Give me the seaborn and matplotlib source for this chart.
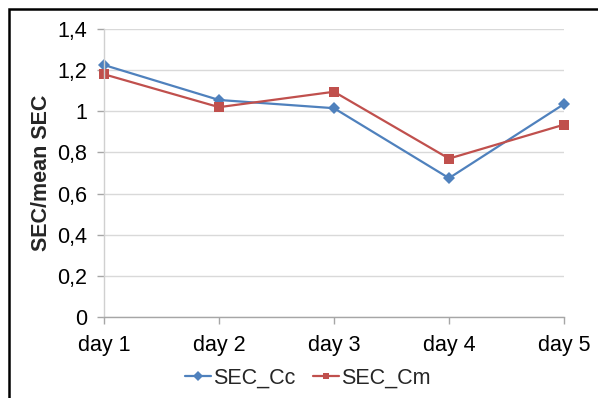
import matplotlib
matplotlib.use("Agg")
import matplotlib.pyplot as plt
from matplotlib.patches import Rectangle
from matplotlib.ticker import FuncFormatter, MultipleLocator
import seaborn as sns
import pandas as pd

days = ["day 1", "day 2", "day 3", "day 4", "day 5"]
sec_cc = [1.225, 1.055, 1.015, 0.675, 1.035]
sec_cm = [1.18, 1.02, 1.095, 0.77, 0.935]
series_names = ["SEC_Cc", "SEC_Cm"]

df = pd.DataFrame({
    "day": days * 2,
    "value": sec_cc + sec_cm,
    "series": [series_names[0]] * len(days) + [series_names[1]] * len(days),
})

sns.set_theme(style="white")
plt.rcParams["font.family"] = ["Liberation Sans", "DejaVu Sans"]

FS = 15.5

fig = plt.figure(figsize=(5.98, 3.98), dpi=100)
ax = fig.add_axes([104 / 598, 1 - 317 / 398, 460 / 598, 288 / 398])

palette = {"SEC_Cc": "#4F81BD", "SEC_Cm": "#C0504D"}
markers = {"SEC_Cc": "D", "SEC_Cm": "s"}
sns.lineplot(data=df, x="day", y="value", hue="series", style="series",
             palette=palette, markers=markers, dashes=False, sort=False,
             linewidth=1.6, markersize=6.5, markeredgewidth=0, ax=ax)
for line in ax.lines:
    line.set_clip_on(False)

ax.set_xlim(0, 4)
ax.set_ylim(0, 1.4)
ax.yaxis.set_major_locator(MultipleLocator(0.2))
ax.yaxis.set_major_formatter(FuncFormatter(
    lambda v, _: "0" if abs(v) < 1e-9 else ("1" if abs(v - 1) < 1e-9 else f"{v:.1f}".replace(".", ","))))

ax.grid(axis="y", color="#d9d9d9", linewidth=1.0)
ax.set_axisbelow(True)
for side in ["top", "right"]:
    ax.spines[side].set_visible(False)
ax.spines["left"].set_color("#d0d0d0")
ax.spines["bottom"].set_color("#a6a6a6")
ax.spines["left"].set_linewidth(1.0)
ax.spines["bottom"].set_linewidth(1.0)

ax.tick_params(axis="both", which="major", labelsize=FS, colors="#a6a6a6",
               labelcolor="black", direction="out", length=5, width=1, left=True, bottom=True)
ax.tick_params(axis="y", pad=7)
ax.tick_params(axis="x", pad=8)

ax.set_xlabel("")
ax.set_ylabel("SEC/mean SEC", fontsize=FS, fontweight="bold", labelpad=4)

handles, labels = ax.get_legend_handles_labels()
ax.legend_.remove()
for h in handles:
    h.set_markersize(5)
fig.legend(handles, labels, loc="center", bbox_to_anchor=(308 / 598, 1 - 378 / 398),
           ncol=2, frameon=False, fontsize=FS, handlelength=1.2, handletextpad=0.1,
           columnspacing=0.8)

# outer chart frame
fig.patches.append(Rectangle((8.5 / 598, -0.05), 1.2, 1 - 9.5 / 398 + 0.05,
                             transform=fig.transFigure, fill=False,
                             edgecolor="black", linewidth=1.8, zorder=10))

fig.savefig("out.png", dpi=100)
